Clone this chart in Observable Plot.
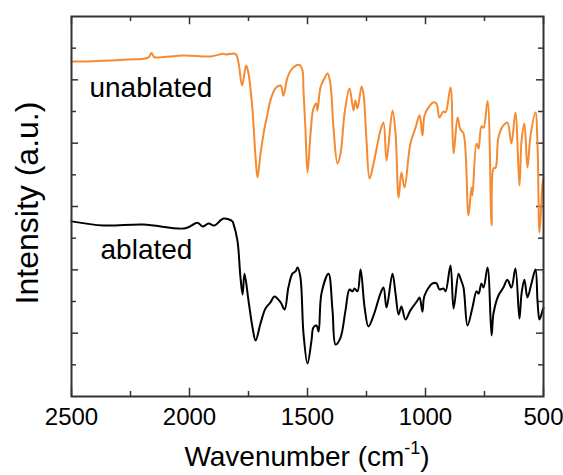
<!DOCTYPE html>
<html>
<head>
<meta charset="utf-8">
<script src="https://cdn.jsdelivr.net/npm/d3@7"></script>
<script src="https://cdn.jsdelivr.net/npm/@observablehq/plot@0.6"></script>
<style>
  html, body { margin: 0; padding: 0; background: #fff; }
  #chart { width: 563px; height: 475px; }
</style>
</head>
<body>
<div id="chart"></div>
<script>
// Unablated spectrum (orange): wavenumber (cm^-1) and intensity (a.u., offset)
const wnUnablated = [2500, 2407, 2263, 2175, 2161, 2150, 2123, 2025, 1911, 1856, 1847, 1805, 1792, 1777, 1760, 1750, 1734, 1720, 1712, 1699, 1686, 1669, 1657, 1636, 1614, 1602, 1585, 1564, 1538, 1530, 1521, 1517, 1509, 1500, 1487, 1475, 1462, 1458, 1445, 1432, 1415, 1403, 1390, 1373, 1360, 1343, 1322, 1305, 1297, 1288, 1271, 1263, 1250, 1237, 1220, 1203, 1191, 1178, 1165, 1140, 1127, 1114, 1102, 1089, 1064, 1042, 1025, 1013, 1004, 987, 966, 953, 941, 924, 915, 894, 881, 864, 852, 839, 818, 805, 801, 784, 775, 763, 754, 737, 720, 712, 703, 691, 670, 653, 636, 619, 602, 593, 581, 568, 555, 534, 525, 517, 504, 500];
const intUnablated = [10.58, 10.59, 10.64, 10.70, 10.85, 10.72, 10.71, 10.77, 10.74, 10.82, 10.80, 10.82, 10.52, 9.82, 10.45, 10.20, 9.13, 7.55, 6.92, 7.67, 8.31, 8.94, 9.35, 9.73, 9.82, 9.50, 10.07, 10.36, 10.48, 10.45, 10.29, 9.66, 8.50, 7.07, 8.31, 9.09, 9.25, 9.03, 9.76, 9.99, 10.20, 9.88, 8.49, 7.36, 7.67, 8.94, 9.73, 9.03, 9.35, 9.09, 9.79, 9.57, 8.08, 6.88, 7.36, 7.99, 8.40, 8.65, 7.45, 9.03, 8.31, 6.28, 7.07, 6.60, 7.99, 8.49, 8.88, 8.24, 8.88, 9.13, 9.29, 9.25, 8.81, 9.00, 8.97, 9.76, 7.67, 8.81, 8.43, 8.31, 5.72, 6.60, 6.35, 7.99, 7.83, 8.53, 8.49, 9.33, 5.40, 7.20, 7.23, 8.18, 8.56, 8.65, 7.99, 8.97, 6.66, 8.08, 8.62, 7.23, 8.24, 8.97, 7.86, 5.18, 6.73, 6.90];

// Ablated spectrum (black)
const wnAblated = [2500, 2364, 2195, 2017, 1966, 1945, 1919, 1894, 1856, 1818, 1814, 1797, 1784, 1775, 1767, 1750, 1733, 1720, 1699, 1678, 1657, 1640, 1614, 1597, 1581, 1564, 1551, 1542, 1530, 1517, 1500, 1483, 1475, 1462, 1453, 1441, 1411, 1394, 1381, 1360, 1339, 1322, 1309, 1301, 1288, 1275, 1258, 1242, 1220, 1191, 1178, 1165, 1140, 1127, 1114, 1102, 1085, 1064, 1034, 1025, 1013, 1004, 970, 953, 941, 924, 915, 894, 881, 860, 852, 839, 822, 801, 784, 775, 763, 754, 737, 720, 712, 691, 670, 653, 636, 619, 602, 593, 581, 568, 551, 534, 525, 517, 504, 500];
const intAblated = [5.53, 5.40, 5.43, 5.31, 5.49, 5.37, 5.46, 5.40, 5.62, 5.53, 5.46, 4.93, 3.76, 3.22, 3.88, 3.03, 2.18, 1.77, 2.31, 2.78, 2.97, 3.16, 2.97, 2.75, 3.44, 3.88, 3.95, 4.07, 3.76, 1.99, 1.04, 1.77, 2.18, 2.24, 2.05, 3.25, 3.88, 2.72, 1.64, 1.86, 2.72, 3.38, 3.32, 3.41, 3.32, 4.01, 2.81, 2.21, 2.56, 3.25, 3.44, 2.81, 3.88, 3.25, 2.59, 2.84, 2.43, 2.72, 3.03, 3.13, 2.68, 3.19, 3.57, 3.57, 3.38, 3.41, 3.32, 4.14, 2.78, 3.88, 3.73, 3.44, 2.24, 2.81, 3.32, 3.25, 3.57, 3.44, 4.07, 1.93, 2.62, 3.19, 3.44, 3.69, 3.44, 4.04, 2.46, 3.25, 3.69, 3.13, 3.57, 4.01, 2.97, 2.43, 2.72, 2.80];

// Series labels (placed in data coordinates)
const seriesNames = ["unablated", "ablated"];
const labelWn = [2424, 2377];
const labelInt = [9.73, 4.61];

// Tick values
const xMajorTicks = [2500, 2000, 1500, 1000, 500];
const xMinorTicks = [2250, 1750, 1250, 750];
const yMajorTicks = [2, 4, 6, 8, 10];
const yMinorTicks = [1, 3, 5, 7, 9, 11];

const unablated = wnUnablated.map((w, i) => ({w, v: intUnablated[i]}));
const ablated = wnAblated.map((w, i) => ({w, v: intAblated[i]}));

const W = 563, H = 475;
const FONT = "'Liberation Sans', Arial, Helvetica, sans-serif";
const axisColor = "#333";

const chart = Plot.plot({
  width: W,
  height: H,
  marginLeft: 71,
  marginRight: 20,
  marginTop: 16,
  marginBottom: 79,
  style: {fontFamily: FONT, fontSize: "24px", color: "#000", background: "#fff", overflow: "visible"},
  x: {domain: [2500, 500], ticks: xMajorTicks, tickFormat: d => String(d), tickSize: 0, tickPadding: 11, label: null},
  y: {domain: [0, 12], axis: null},
  marks: [
    // inward ticks, bottom and top
    Plot.ruleX(xMajorTicks, {x: d => d, y1: 0, y2: 0.26, stroke: axisColor, strokeWidth: 1.5}),
    Plot.ruleX(xMinorTicks, {x: d => d, y1: 0, y2: 0.16, stroke: axisColor, strokeWidth: 1.5}),
    Plot.ruleX(xMajorTicks, {x: d => d, y1: 12, y2: 11.74, stroke: axisColor, strokeWidth: 1.5}),
    Plot.ruleX(xMinorTicks, {x: d => d, y1: 12, y2: 11.84, stroke: axisColor, strokeWidth: 1.5}),
    // inward ticks, left and right
    Plot.ruleY(yMajorTicks, {y: d => d, x1: 2500, x2: 2470, stroke: axisColor, strokeWidth: 1.5}),
    Plot.ruleY(yMinorTicks, {y: d => d, x1: 2500, x2: 2479, stroke: axisColor, strokeWidth: 1.5}),
    Plot.ruleY(yMajorTicks, {y: d => d, x1: 500, x2: 530, stroke: axisColor, strokeWidth: 1.5}),
    Plot.ruleY(yMinorTicks, {y: d => d, x1: 500, x2: 521, stroke: axisColor, strokeWidth: 1.5}),
    Plot.line(unablated, {x: "w", y: "v", stroke: "#f68a30", strokeWidth: 2, curve: "catmull-rom"}),
    Plot.line(ablated, {x: "w", y: "v", stroke: "#000", strokeWidth: 2, curve: "catmull-rom"}),
    Plot.text(seriesNames, {x: (d, i) => labelWn[i], y: (d, i) => labelInt[i], text: d => d, textAnchor: "start", fontSize: 28, fill: "#000"}),
    Plot.frame({stroke: axisColor, strokeWidth: 2})
  ]
});

const svg = d3.select(chart);
// X axis title with superscript
const xt = svg.append("text")
  .attr("x", 307)
  .attr("y", 466)
  .attr("text-anchor", "middle")
  .attr("font-family", FONT)
  .attr("font-size", 28)
  .attr("fill", "#000");
xt.append("tspan").text("Wavenumber (cm");
xt.append("tspan").attr("font-size", 18).attr("dy", -12).text("-1");
xt.append("tspan").attr("dy", 12).text(")");

// Y axis title
svg.append("text")
  .attr("transform", `translate(38, 203) rotate(-90)`)
  .attr("text-anchor", "middle")
  .attr("font-family", FONT)
  .attr("font-size", 32)
  .attr("fill", "#000")
  .text("Intensity (a.u.)");

document.getElementById("chart").appendChild(chart);
</script>
</body>
</html>
